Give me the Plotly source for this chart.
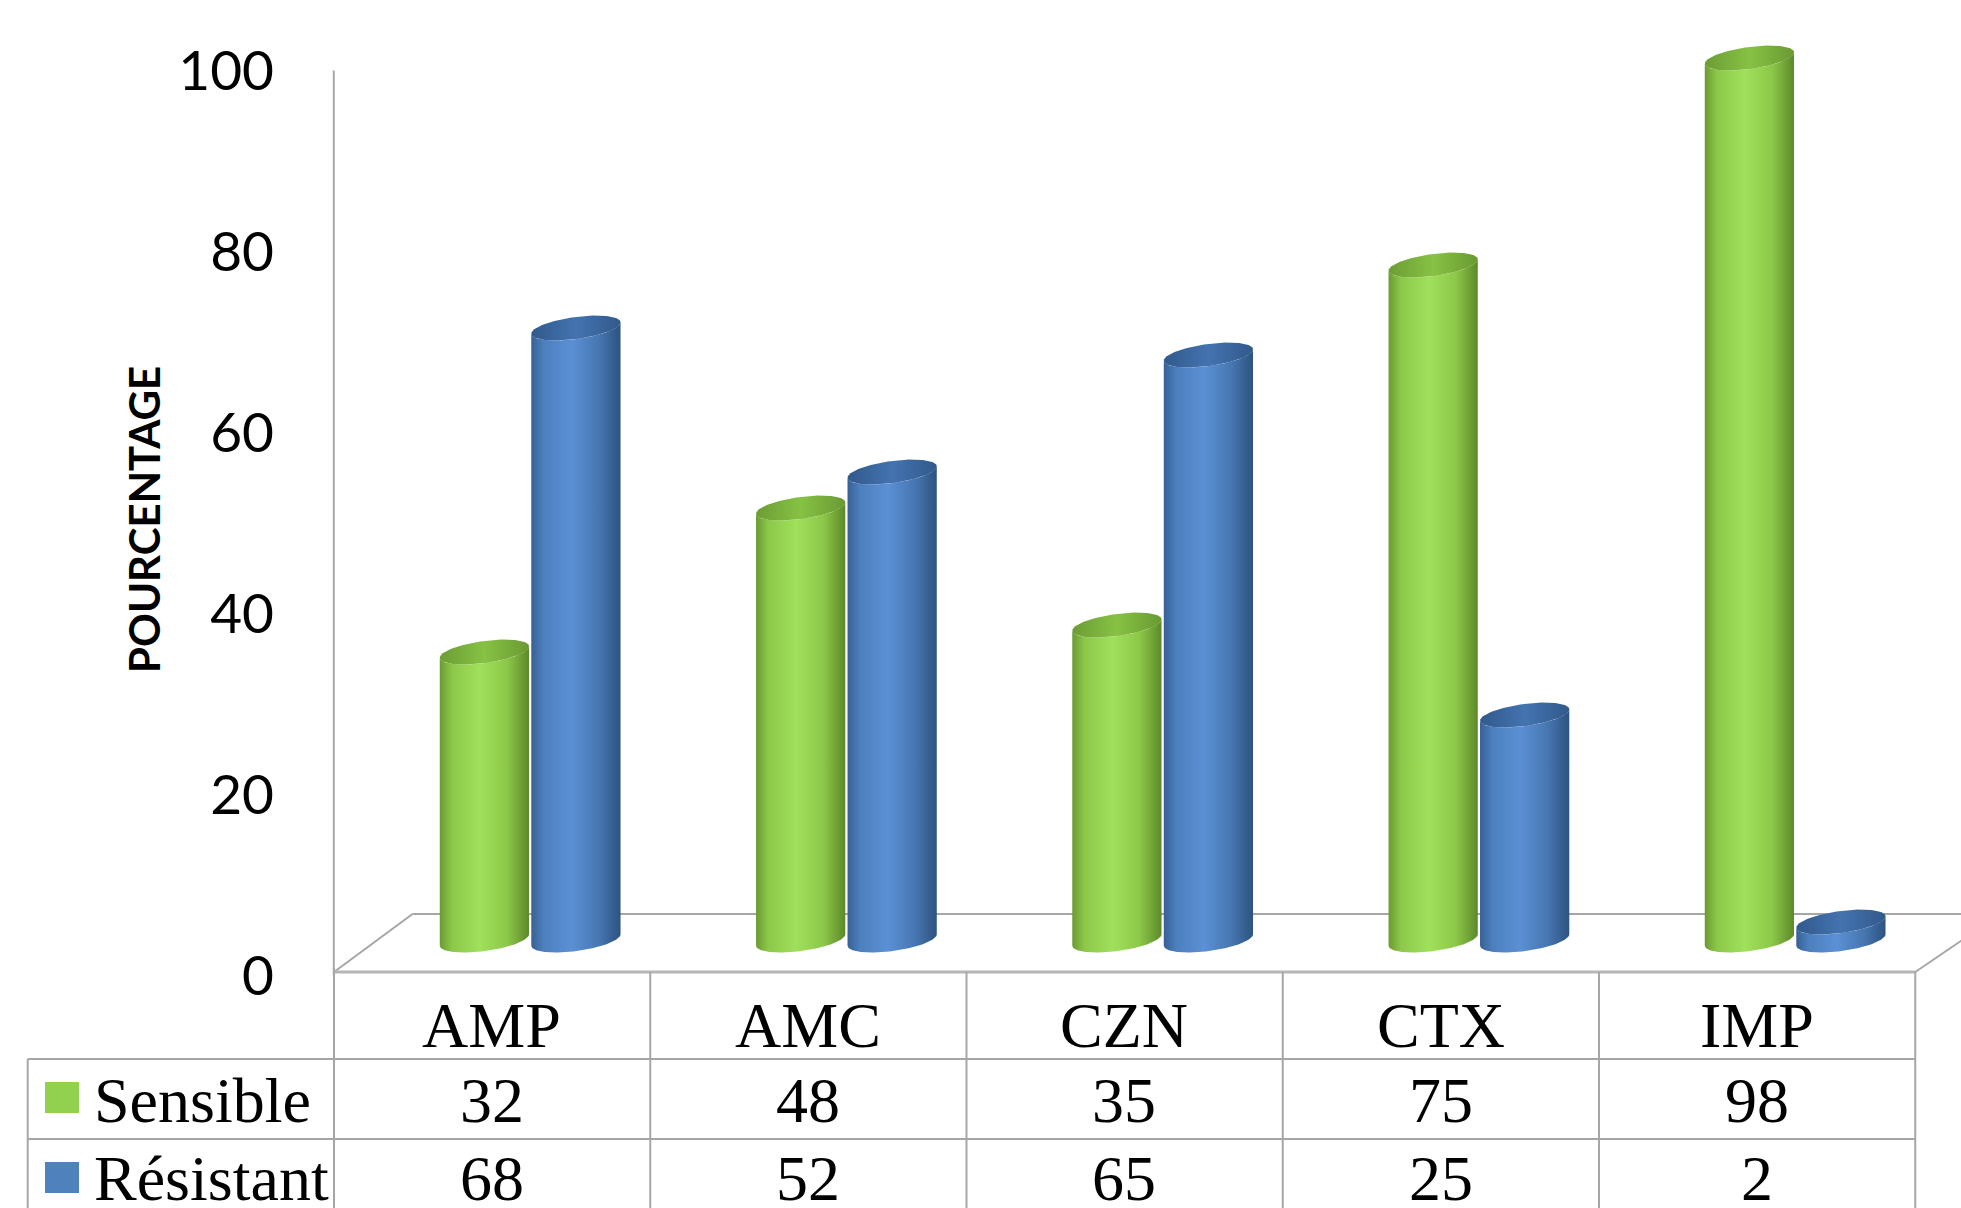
import numpy as np
import plotly.graph_objects as go

# ---- data -------------------------------------------------------------
categories = ["AMP", "AMC", "CZN", "CTX", "IMP"]
sensible = [32, 48, 35, 75, 98]
resistant = [68, 52, 65, 25, 2]
series_names = ["Sensible", "Résistant"]
y_ticks = [0, 20, 40, 60, 80, 100]

# ---- canvas geometry (px) ----------------------------------------------
W, H = 1961, 1208
COL_W = 316.25            # width of one category column of the table
COL0 = 491.9              # centre of the first column
Y0_AXIS, AXIS_PX = 975.5, 9.05   # value 0 / px per unit on the back wall scale
Y0_BAR, BAR_PX = 940.0, 9.0      # value 0 / px per unit at the cylinders' depth

x_range = [-COL0 / COL_W, (W - COL0) / COL_W]
y_range = [-(H - Y0_AXIS) / AXIS_PX, Y0_AXIS / AXIS_PX]
y2_range = [-(H - Y0_BAR) / BAR_PX, Y0_BAR / BAR_PX]

# cylinder look
A, B, TILT = 45.0, 11.0, np.radians(7.7)   # ellipse semi-axes (px) and tilt
OFFSETS = [-7.5 / COL_W, 84.0 / COL_W]     # series offset inside a column
BODY_SCALES = [
    [[0, "#6a9932"], [0.14, "#8cc84a"], [0.45, "#a0e05b"], [0.75, "#8dc849"], [1, "#5c8829"]],
    [[0, "#375f94"], [0.14, "#4c7fbd"], [0.45, "#5b90d5"], [0.75, "#4777b2"], [1, "#2c527f"]],
]
CAP_SCALES = [
    [[0, "#6c9c34"], [0.5, "#86c244"], [1, "#6a9932"]],
    [[0, "#31598b"], [0.5, "#4473b0"], [1, "#31598b"]],
]
SWATCH = ["#92d050", "#4f81bd"]
GRID = "#a6a6a6"


def ellipse_offsets(t):
    u, v = A * np.cos(t), B * np.sin(t)
    dx = u * np.cos(TILT) + v * np.sin(TILT)
    dy = -u * np.sin(TILT) + v * np.cos(TILT)      # screen px, downwards
    return dx, dy


t_r = np.arctan2(B * np.sin(TILT), A * np.cos(TILT))
front = np.linspace(t_r, t_r + np.pi, 80)          # right -> left via the front


def to_data(cx, val, dx, dy):
    return cx + dx / COL_W, val - dy / BAR_PX


def cylinder(cx, value, k):
    fdx, fdy = ellipse_offsets(front)
    bx, by = to_data(cx, 0.0, fdx[::-1], fdy[::-1])   # base, left -> right
    tx, ty = to_data(cx, value, fdx, fdy)              # top, right -> left
    body = go.Scatter(
        x=np.concatenate([bx, tx, bx[:1]]), y=np.concatenate([by, ty, by[:1]]),
        yaxis="y2", mode="lines", line=dict(width=0), fill="toself",
        fillgradient=dict(type="horizontal", colorscale=BODY_SCALES[k],
                          start=cx - A / COL_W, stop=cx + A / COL_W),
        hoverinfo="skip", showlegend=False,
    )
    t = np.linspace(0, 2 * np.pi, 120)
    cdx, cdy = ellipse_offsets(t)
    cx_, cy_ = to_data(cx, value, cdx, cdy)
    cap = go.Scatter(
        x=cx_, y=cy_, yaxis="y2", mode="lines", line=dict(width=0), fill="toself",
        fillgradient=dict(type="horizontal", colorscale=CAP_SCALES[k],
                          start=cx - A / COL_W, stop=cx + A / COL_W),
        hoverinfo="skip", showlegend=False,
    )
    return [body, cap]


fig = go.Figure()

# value axis line on the back wall, drawn on the tick scale (left edge of column 0)
axis_x = -0.5
fig.add_trace(go.Scatter(
    x=[axis_x, axis_x], y=[y_ticks[0], y_ticks[-1]], yaxis="y", mode="lines",
    line=dict(color=GRID, width=2), hoverinfo="skip", showlegend=False,
))

for i in range(len(categories)):
    for k, vals in enumerate([sensible, resistant]):
        for tr in cylinder(i + OFFSETS[k], vals[i], k):
            fig.add_trace(tr)


# ---- floor and data table --------------------------------------------
def px(x):
    return x / W


def py(y):
    return 1 - y / H


def seg(x0, y0, x1, y1, width=2, color=GRID):
    return dict(type="line", xref="paper", yref="paper",
                x0=px(x0), y0=py(y0), x1=px(x1), y1=py(y1),
                line=dict(color=color, width=width), layer="below")


FRONT_Y, BACK_Y = 972, 914
ROW1, ROW2 = 1059, 1139
col_edges = [334 + j * COL_W for j in range(len(categories) + 1)]
shapes = [
    seg(334, FRONT_Y - 4, 334, H),                 # table left edge
    seg(334, FRONT_Y, 412.5, BACK_Y),              # floor, left side
    seg(412.5, BACK_Y, W, BACK_Y),                 # floor, back edge
    seg(334, FRONT_Y, col_edges[-1], FRONT_Y, 3, "#b5b5b5"),
    seg(col_edges[-1], FRONT_Y, col_edges[-1] + 50, FRONT_Y - 34),
    seg(27.7, ROW1, col_edges[-1], ROW1),
    seg(27.7, ROW2, col_edges[-1], ROW2),
    seg(27.7, ROW1, 27.7, H),
]
for xe in col_edges[1:]:
    shapes.append(seg(xe, FRONT_Y, xe, H))
for k, y_sw in enumerate([1082, 1162]):
    shapes.append(dict(type="rect", xref="paper", yref="paper",
                       x0=px(45), x1=px(79), y0=py(y_sw), y1=py(y_sw + 31),
                       fillcolor=SWATCH[k], line=dict(width=0)))

serif = dict(family="Liberation Serif, Times New Roman, serif", size=64, color="black")
annotations = []
for i, c in enumerate(categories):
    annotations.append(dict(x=i, xref="x", y=py(1025), yref="paper", text=c,
                            showarrow=False, font=serif, xanchor="center", yanchor="middle"))
    for vals, yr in [(sensible, 1100), (resistant, 1178)]:
        annotations.append(dict(x=i, xref="x", y=py(yr), yref="paper", text=str(vals[i]),
                                showarrow=False, font=serif, xanchor="center", yanchor="middle"))
for name, yr in zip(series_names, [1100, 1178]):
    annotations.append(dict(x=px(92), xref="paper", y=py(yr), yref="paper", text=name,
                            showarrow=False, font=serif, xanchor="left", yanchor="middle"))
annotations.append(dict(x=px(144), xref="paper", y=py(520), yref="paper", text="<b>POURCENTAGE</b>",
                        textangle=-90, showarrow=False,
                        font=dict(family="Lato, Calibri, sans-serif", size=42, color="black"),
                        xanchor="center", yanchor="middle"))

fig.update_layout(
    width=W, height=H,
    margin=dict(l=0, r=0, t=0, b=0, pad=0),
    paper_bgcolor="white", plot_bgcolor="white",
    showlegend=False,
    xaxis=dict(range=x_range, visible=False, fixedrange=True),
    yaxis=dict(range=y_range, anchor="free", position=px(334), side="left",
               tickvals=y_ticks, ticktext=[str(v) for v in y_ticks],
               ticks="", ticklabelstandoff=60, showline=False, showgrid=False,
               zeroline=False, automargin=False, fixedrange=True,
               tickfont=dict(family="Lato, Calibri, sans-serif", size=55, color="black")),
    yaxis2=dict(range=y2_range, overlaying="y", visible=False, fixedrange=True),
    shapes=shapes,
    annotations=annotations,
)

fig.write_html("out.html")
